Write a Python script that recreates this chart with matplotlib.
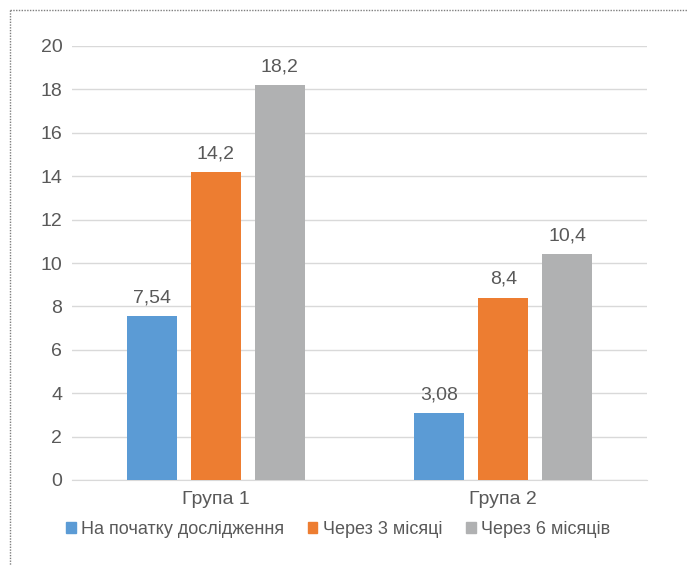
import numpy as np
import matplotlib.pyplot as plt
from matplotlib.patches import Patch
from matplotlib.lines import Line2D

plt.rcParams['font.family'] = ['Liberation Sans', 'DejaVu Sans']

# дані
groups = ['Група 1', 'Група 2']
series = ['На початку дослідження', 'Через 3 місяці', 'Через 6 місяців']
start = [7.54, 3.08]
after3 = [14.2, 8.4]
after6 = [18.2, 10.4]
labels = [['7,54', '3,08'], ['14,2', '8,4'], ['18,2', '10,4']]
colors = ['#5b9bd5', '#ed7d31', '#b0b1b2']

fig = plt.figure(figsize=(6.88, 5.66), dpi=100)
ax = fig.add_axes([72/688, 1-480/566, (647-72)/688, (480-46)/566])

x = np.arange(len(groups))
w = 0.174
step = 0.2226
txtc = '#595959'
fs = 14
for i, vals in enumerate([start, after3, after6]):
    pos = x + (i-1)*step
    ax.bar(pos, vals, width=w, color=colors[i], zorder=3)
    for p, v, t in zip(pos, vals, labels[i]):
        ax.text(p, v+0.45, t, ha='center', va='bottom', fontsize=fs, color=txtc)

ax.set_xlim(-0.5, 1.5)
ax.set_ylim(0, 20)
ax.set_yticks(range(0, 21, 2))
ax.set_xticks(x)
ax.set_xticklabels(groups)
ax.grid(axis='y', color='#d9d9d9', lw=1, zorder=0)
for s in ['top', 'right', 'left']:
    ax.spines[s].set_visible(False)
ax.spines['bottom'].set_color('#d9d9d9')
ax.tick_params(axis='both', length=0, labelsize=fs, colors=txtc)
ax.tick_params(axis='y', pad=7)
ax.tick_params(axis='x', pad=8)

handles = [Patch(color=c) for c in colors]
leg = fig.legend(handles, series, loc='center', bbox_to_anchor=(338/688, 1-529/566),
                 ncol=3, frameon=False, fontsize=13, handlelength=0.55, handleheight=0.55,
                 handletextpad=0.3, columnspacing=1.3)
for t in leg.get_texts():
    t.set_color(txtc)

# пунктирна рамка
fig.add_artist(Line2D([10/688, 1], [1-10/566, 1-10/566], transform=fig.transFigure,
                      color='#7f7f7f', lw=1, ls=(0, (1, 1))))
fig.add_artist(Line2D([10/688, 10/688], [1-10/566, 0], transform=fig.transFigure,
                      color='#7f7f7f', lw=1, ls=(0, (1, 1))))

plt.savefig('out.png', dpi=100)
